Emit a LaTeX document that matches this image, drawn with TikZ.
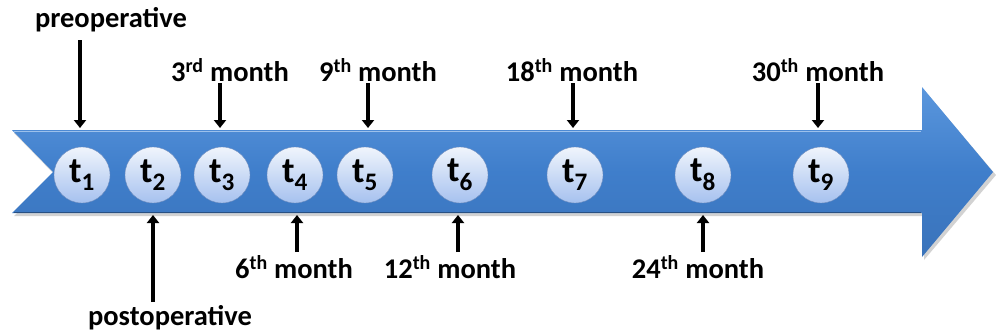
\documentclass[tikz,border=0pt]{standalone}
\usepackage{fontspec}
\setmainfont{Carlito}
\usetikzlibrary{arrows.meta}
\definecolor{arrowtop}{HTML}{5B97DD}
\definecolor{arrowmid}{HTML}{3F7ECB}
\definecolor{arrowbot}{HTML}{3A73BA}
\definecolor{circtop}{HTML}{F0F5FC}
\definecolor{circbot}{HTML}{A6C1EF}
\definecolor{circedge}{HTML}{6F8DBE}
\tikzset{
  x=1pt, y=-1pt,
  lbl/.style={font=\bfseries\fontsize{28.5}{30}\selectfont, inner sep=0pt, anchor=center},
  tnode/.style={circle, minimum size=56pt, inner sep=0pt, top color=circtop, bottom color=circbot, draw=circedge, line width=0.4pt, font=\bfseries\fontsize{36}{38}\selectfont},
  marker/.style={line width=4.5pt, -{Triangle[width=12pt,length=8pt]}, black}
}
\begin{document}
\begin{tikzpicture}
\useasboundingbox (0,0) rectangle (996,333);
% main arrow
\path[fill=black!35, opacity=0.5] (14,133) -- (924,133) -- (924,90) -- (996,175) -- (924,260) -- (924,216) -- (14,216) -- (55,175) -- cycle;
\shade[top color=arrowtop, bottom color=arrowbot, middle color=arrowmid]
  (12,130) -- (922,130) -- (922,87) -- (993,172) -- (922,257) -- (922,213) -- (12,213) -- (53,172) -- cycle;
\draw[line width=1.2pt, color=arrowtop!60!white] (14,131.5) -- (921,131.5);
\draw[line width=0.8pt, color=arrowbot!70!black] (14,212.6) -- (921,212.6);
% time points
\node[tnode] (t1) at (82,175) {t$_{\mathbf 1}$};
\node[tnode] (t2) at (153,175) {t$_{\mathbf 2}$};
\node[tnode] (t3) at (222,175) {t$_{\mathbf 3}$};
\node[tnode] (t4) at (295,175) {t$_{\mathbf 4}$};
\node[tnode] (t5) at (365,175) {t$_{\mathbf 5}$};
\node[tnode] (t6) at (460,175) {t$_{\mathbf 6}$};
\node[tnode] (t7) at (575,175) {t$_{\mathbf 7}$};
\node[tnode] (t8) at (703,175) {t$_{\mathbf 8}$};
\node[tnode] (t9) at (821,175) {t$_{\mathbf 9}$};
% labels
\node[lbl] (pre) at (111,20) {preoperative};
\node[lbl] (m3) at (230,70) {3\textsuperscript{rd} month};
\node[lbl] (m9) at (378,70) {9\textsuperscript{th} month};
\node[lbl] (m18) at (572,70) {18\textsuperscript{th} month};
\node[lbl] (m30) at (818,70) {30\textsuperscript{th} month};
\node[lbl] (m6) at (294,267) {6\textsuperscript{th} month};
\node[lbl] (m12) at (450,267) {12\textsuperscript{th} month};
\node[lbl] (m24) at (698,267) {24\textsuperscript{th} month};
\node[lbl] (post) at (170,318) {postoperative};
% arrow ends
\coordinate (e1) at (80,128);
\coordinate (s1) at (80,40);
\coordinate (e3) at (220,128);
\coordinate (s3) at (220,83);
\coordinate (e5) at (368,128);
\coordinate (s5) at (368,83);
\coordinate (e7) at (573,128);
\coordinate (s7) at (573,83);
\coordinate (e9) at (818,128);
\coordinate (s9) at (818,83);
\coordinate (e2) at (153,215);
\coordinate (s2) at (153,302);
\coordinate (e4) at (297,215);
\coordinate (s4) at (297,252);
\coordinate (e6) at (458,215);
\coordinate (s6) at (458,252);
\coordinate (e8) at (703,215);
\coordinate (s8) at (703,252);
\foreach \i in {1,...,9} { \draw[marker] (s\i) -- (e\i); }
\end{tikzpicture}
\end{document}
